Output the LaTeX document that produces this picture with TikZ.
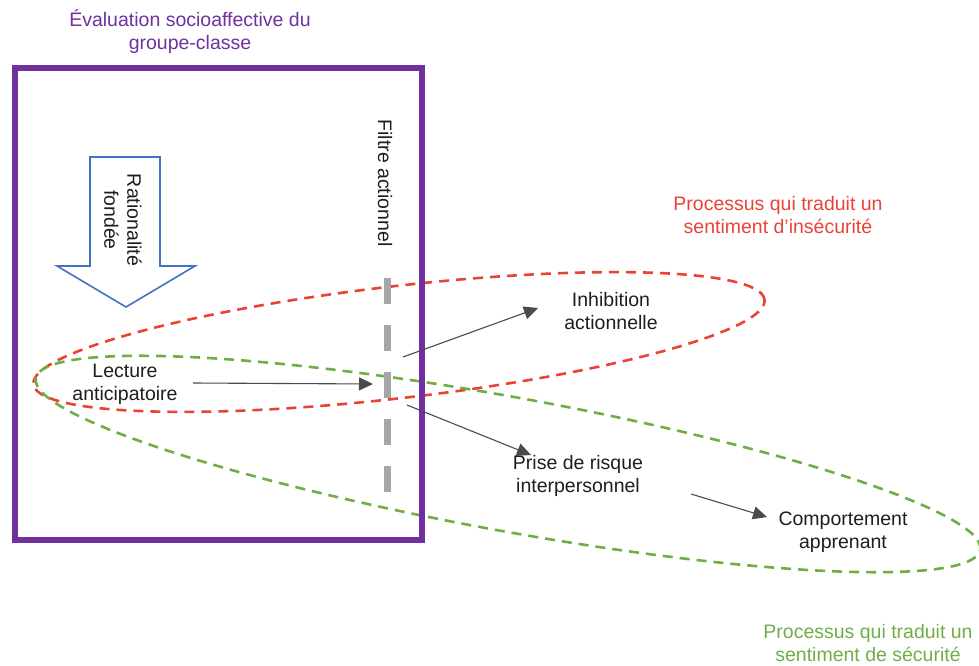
\documentclass[tikz,border=0pt]{standalone}
\usepackage{fontspec}
\setmainfont{Liberation Sans}
\usetikzlibrary{arrows.meta}
\definecolor{frameviolet}{RGB}{112,48,160}
\definecolor{arrowblue}{RGB}{68,114,196}
\definecolor{unsafered}{RGB}{233,67,53}
\definecolor{safegreen}{RGB}{112,173,71}
\definecolor{filtergray}{RGB}{166,166,166}
\definecolor{ink}{RGB}{30,30,30}
\begin{document}
\begin{tikzpicture}[x=1pt,y=-1pt,
  lbl/.style={align=center,font=\fontsize{19.5}{23}\selectfont,text=ink,inner sep=0pt},
  flow/.style={draw=ink!80,line width=1.1pt,-{Triangle[length=14pt,width=13pt]}},
  zone/.style={line width=2.6pt,dash pattern=on 10pt off 7pt},
]
\useasboundingbox (0,0) rectangle (979,666);

% process zones
\draw[zone,unsafered,rotate around={6.6:(399,342)}] (399,342) ellipse [x radius=368pt,y radius=56pt];
\draw[zone,safegreen,rotate around={-10.3:(508,464)}] (508,464) ellipse [x radius=480pt,y radius=67pt];

% socio-affective evaluation frame
\draw[frameviolet,line width=5.5pt] (15,68) rectangle (422,540);
\node[lbl,text=frameviolet] (title) at (190,32) {Évaluation socioaffective du\\groupe-classe};

% block arrow "Rationalité fondée"
\draw[arrowblue,line width=1.6pt,line join=miter,fill=white]
  (90,157) -- (160,157) -- (160,266) -- (195,266) -- (126,307) -- (57,266) -- (90,266) -- cycle;
\node[lbl,rotate=-90] (ratio) at (123,220) {Rationalité\\fondée};

% action filter
\node[lbl,rotate=-90] (filtre) at (385,183) {Filtre actionnel};
\draw[filtergray,line width=7pt,dash pattern=on 26pt off 21pt] (387,278) -- (387,493);

% process labels
\node[lbl] (lecture) at (125,384) {Lecture\\anticipatoire};
\node[lbl] (inhib) at (611,311) {Inhibition\\actionnelle};
\node[lbl] (prise) at (578,476) {Prise de risque\\interpersonnel};
\node[lbl] (comport) at (843,532) {Comportement\\apprenant};
\node[lbl,text=unsafered] (insecu) at (778,215) {Processus qui traduit un\\sentiment d’insécurité};
\node[lbl,text=safegreen] (secu) at (868,643) {Processus qui traduit un\\sentiment de sécurité};

% connectors
\coordinate (lecture-out) at (193,383);
\coordinate (filtre-in) at (373,384);
\coordinate (filtre-up) at (403,357);
\coordinate (filtre-down) at (407,405);
\coordinate (inhib-in) at (538,308);
\coordinate (prise-in) at (531,455);
\coordinate (prise-out) at (691,494);
\coordinate (comport-in) at (767,517);
\draw[flow] (lecture-out) -- (filtre-in);
\draw[flow] (filtre-up) -- (inhib-in);
\draw[flow] (filtre-down) -- (prise-in);
\draw[flow] (prise-out) -- (comport-in);
\end{tikzpicture}
\end{document}
